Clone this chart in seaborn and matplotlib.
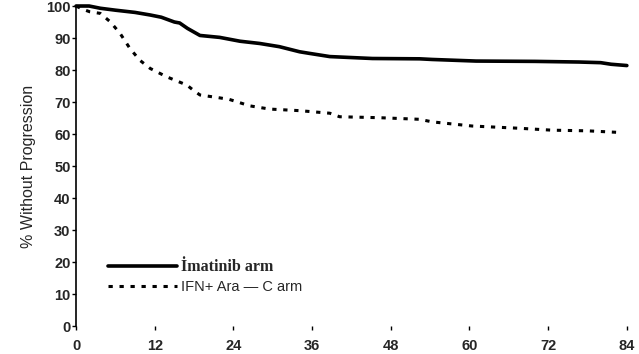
import numpy as np
import pandas as pd
import matplotlib
matplotlib.use("Agg")
import matplotlib.pyplot as plt
import seaborn as sns

# Kaplan-Meier style curves (months, % without progression)
imatinib_months = [0, 2, 3.7, 6, 9, 11.3, 13, 15, 15.8, 17, 18.9, 21.9, 25, 28, 31,
                   34.1, 35.6, 38.7, 45.2, 52.4, 54.3, 61, 70, 76.7, 80, 81.6, 84]
imatinib_pct = [100, 100, 99.3, 98.7, 98, 97.2, 96.5, 95, 94.7, 93, 90.8, 90.2, 89, 88.3, 87.3,
                85.7, 85.2, 84.2, 83.6, 83.5, 83.3, 82.8, 82.7, 82.5, 82.3, 81.8, 81.4]

ifn_months = [0, 1, 2.1, 3.7, 5.2, 6.7, 8.2, 9.7, 11.3, 13.8, 16.9, 18, 18.9, 21.9, 23.4,
              26.5, 29.5, 34.1, 38.7, 40.2, 46.3, 52.4, 54.3, 60.4, 67.6, 72.6, 78, 82.8]
ifn_pct = [100, 99, 98.2, 97.7, 95.1, 91.5, 86.8, 83.1, 80.5, 77.9, 75.3, 73.5, 72.2, 71.3, 70.8,
           68.8, 67.8, 67.3, 66.5, 65.4, 65.1, 64.6, 63.8, 62.5, 61.8, 61.2, 61, 60.5]

x_ticks = [0, 12, 24, 36, 48, 60, 72, 84]
y_ticks = [0, 10, 20, 30, 40, 50, 60, 70, 80, 90, 100]

label_ima = "İmatinib arm"
label_ifn = "IFN+ Ara — C arm"

sns.set_theme(style="white")
plt.rcParams['font.family'] = ['Liberation Sans', 'DejaVu Sans']

fig = plt.figure(figsize=(6.39, 3.54), dpi=100)
ax = fig.add_axes([0.119, 0.079, 0.862, 0.904])

df_ima = pd.DataFrame({"month": imatinib_months, "pct": imatinib_pct})
df_ifn = pd.DataFrame({"month": ifn_months, "pct": ifn_pct})

sns.lineplot(data=df_ima, x="month", y="pct", ax=ax, color="black", lw=2.6,
             label=label_ima, clip_on=False)
sns.lineplot(data=df_ifn, x="month", y="pct", ax=ax, color="black", lw=2.2,
             linestyle=(0, (1.4, 2.2)), label=label_ifn, clip_on=False)

ax.set_xlim(0, 84)
ax.set_ylim(0, 100)
ax.set_xticks(x_ticks)
ax.set_yticks(y_ticks)
ax.set_xticklabels([str(t) for t in x_ticks], fontsize=10.5, fontweight="bold")
ax.set_yticklabels([str(t) for t in y_ticks], fontsize=10.5, fontweight="bold")

for s in ["top", "right", "bottom"]:
    ax.spines[s].set_visible(False)
ax.spines["left"].set_color("black")
ax.spines["left"].set_linewidth(1.2)

ax.tick_params(axis="x", length=3, width=1, color="black", direction="out", pad=6.5)
ax.tick_params(axis="y", length=3, width=1, color="black", direction="out", pad=1)
ax.xaxis.set_ticks_position("bottom")
ax.yaxis.set_ticks_position("left")

ax.set_xlabel("")
ax.set_ylabel("% Without Progression", fontsize=11.5, labelpad=7)

leg = ax.legend(loc="center left", bbox_to_anchor=(0.035, 0.155), frameon=False,
                handlelength=4.7, handletextpad=0.3, labelspacing=0.35, fontsize=10.5)
txts = leg.get_texts()
txts[0].set_family(['Liberation Serif', 'DejaVu Serif'])
txts[0].set_fontweight("bold")
txts[0].set_fontsize(11.5)

fig.savefig("out.png", dpi=100)
